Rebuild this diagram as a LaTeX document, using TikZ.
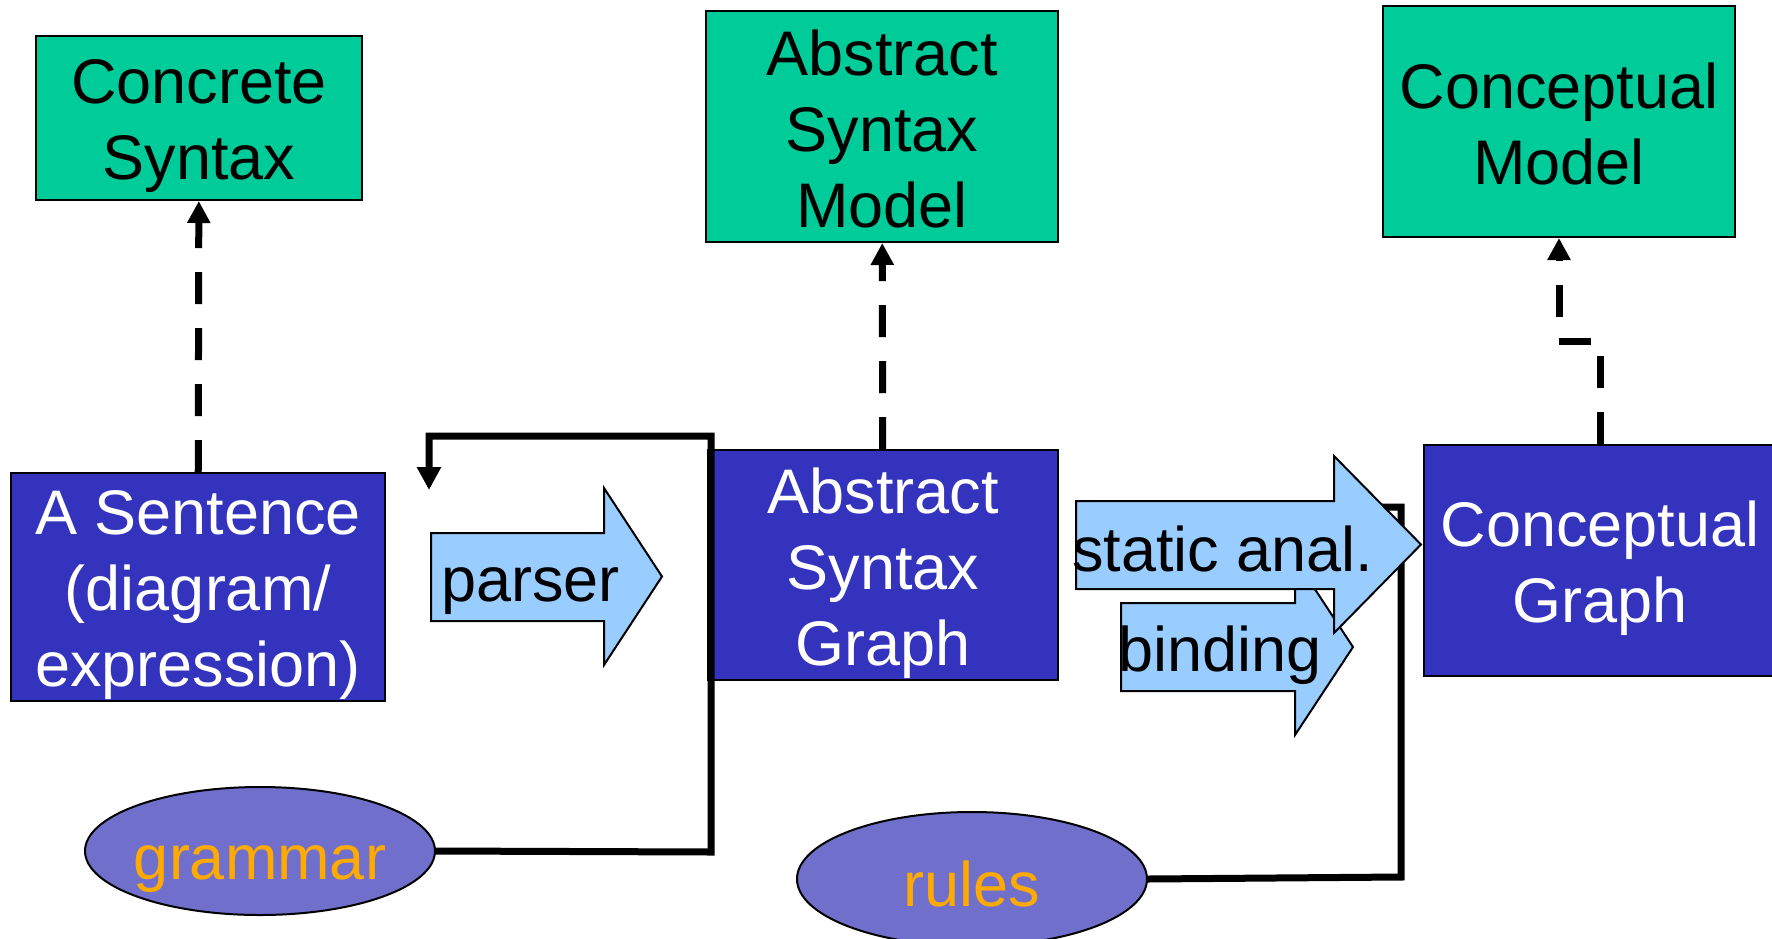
\documentclass[tikz,border=0pt]{standalone}
\usepackage{fontspec}
\setmainfont{Liberation Sans}
\usetikzlibrary{shapes.geometric,arrows.meta}
\definecolor{modelgreen}{RGB}{0,204,153}
\definecolor{graphblue}{RGB}{51,51,190}
\definecolor{toolblue}{RGB}{153,204,255}
\definecolor{inputpurple}{RGB}{112,112,204}
\definecolor{inputorange}{RGB}{255,170,0}
\tikzset{
  bigfont/.style={font=\fontsize{63}{76}\selectfont},
  caption/.style={inner sep=0pt, align=center, bigfont, yshift=-8pt},
  modelbox/.style={draw=black, line width=2pt, fill=modelgreen, inner sep=0pt},
  graphbox/.style={draw=black, line width=2pt, fill=graphblue, inner sep=0pt},
  inputellipse/.style={ellipse, draw=black, line width=2pt, fill=inputpurple,
    inner sep=0pt},
  dark/.style={caption, text=black},
  light/.style={caption, text=white},
  warm/.style={caption, text=inputorange},
  blockarrow/.style={draw=black, line width=2pt, fill=toolblue, line join=miter},
  arrowlabel/.style={inner sep=0pt, anchor=base west, bigfont, text=black},
  conforms/.style={line width=7pt, dash pattern=on 32pt off 24pt,
    -{Triangle[length=22pt,width=22pt]}},
  feeds/.style={line width=7pt, line join=miter},
}
\begin{document}
\begin{tikzpicture}[x=1pt, y=-1pt]
\useasboundingbox (0,0) rectangle (1772,938);

% models (top row)
\node[modelbox, minimum width=326pt, minimum height=164pt,
  label={[dark]center:Concrete\\Syntax}] (concrete) at (199,118) {};
\node[modelbox, minimum width=352pt, minimum height=231pt,
  label={[dark, yshift=6pt]center:Abstract\\Syntax\\Model}] (asm) at (882,126.5) {};
\node[modelbox, minimum width=352pt, minimum height=231pt,
  label={[dark, yshift=6pt]center:Conceptual\\Model}] (cm) at (1559,121.5) {};

% artefacts (middle row)
\node[graphbox, minimum width=374pt, minimum height=228pt,
  label={[light]center:A Sentence\\(diagram/\\expression)}] (sent) at (198,587) {};
\node[graphbox, minimum width=350pt, minimum height=230pt,
  label={[light]center:Abstract\\Syntax\\Graph}] (asg) at (883,565) {};
\node[graphbox, minimum width=352pt, minimum height=231pt,
  label={[light]center:Conceptual\\Graph}] (cg) at (1600,560.5) {};

% inputs (bottom row)
\node[inputellipse, minimum width=350pt, minimum height=128pt,
  label={[warm, yshift=-10pt]center:grammar}] (grammar) at (260,851) {};
\node[inputellipse, minimum width=350pt, minimum height=134pt,
  label={[warm, yshift=3pt]center:rules}] (rules) at (972,879) {};

% conformance links
\draw[conforms] (sent) -- (concrete);
\draw[conforms] (asg) -- (asm);
\coordinate (bend) at (1580,341);
\draw[conforms] (cg.north) |- (bend) -| (cm.south);

% grammar feeds the parser
\coordinate (g1) at (711,852);
\coordinate (g2) at (711,436);
\coordinate (g3) at (429,436);
\coordinate (g4) at (429,490);
\draw[feeds, -{Triangle[length=23pt,width=23pt]}] (grammar.east) -- (g1) -- (g2) -- (g3) -- (g4);

% rules feed the static analysis
\coordinate (r1) at (1401,877);
\coordinate (r2) at (1401,507);
\coordinate (r3) at (1380,507);
\draw[feeds] (rules.east) -- (r1) -- (r2) -- (r3);

% transformation steps
\draw[blockarrow] (431,533) -- (604,533) -- (604,488) -- (662,576.5) -- (604,665)
  -- (604,621) -- (431,621) -- cycle;
\node[arrowlabel] (parser) at (441,601) {parser};

\draw[blockarrow] (1121,603) -- (1295,603) -- (1295,559) -- (1353,647) -- (1295,735)
  -- (1295,691) -- (1121,691) -- cycle;
\node[arrowlabel] (binding) at (1118,671) {binding};

\draw[blockarrow] (1076,501) -- (1334,501) -- (1334,456) -- (1421,544.5) -- (1334,633)
  -- (1334,589) -- (1076,589) -- cycle;
\node[arrowlabel] (static) at (1072,571) {static anal.};
\end{tikzpicture}
\end{document}
